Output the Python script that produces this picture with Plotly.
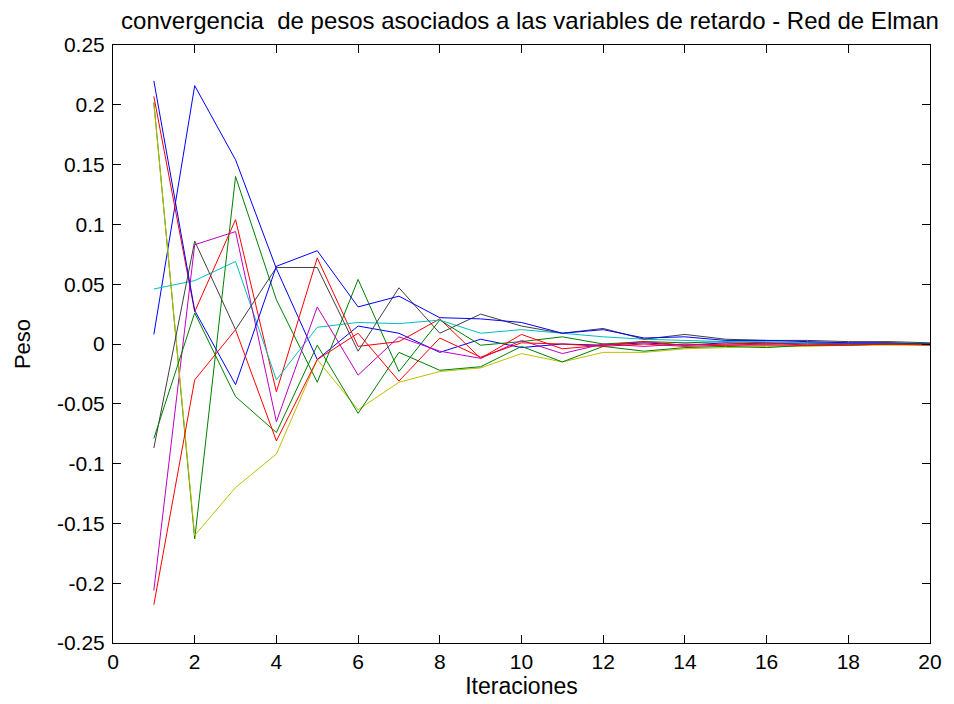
import plotly.graph_objects as go

iteraciones = list(range(1, 21))

blue_a = [0.008, 0.216, 0.154, 0.063, -0.013, 0.015, 0.009, -0.007, 0.004, -0.003, 0.000, -0.001, 0.001, -0.001, 0.001, 0.000, 0.001, 0.000, 0.000, 0.000]
green_a = [0.202, -0.163, 0.140, 0.037, -0.032, 0.054, -0.023, 0.020, -0.001, 0.002, 0.006, 0.000, 0.002, 0.001, 0.002, 0.001, 0.001, 0.000, 0.000, 0.000]
red_a = [0.207, 0.027, 0.104, -0.040, 0.072, -0.002, 0.002, 0.021, -0.012, 0.008, -0.004, -0.001, 0.002, -0.001, 0.000, 0.001, -0.001, 0.000, 0.000, 0.000]
cyan = [0.046, 0.053, 0.069, -0.030, 0.014, 0.018, 0.017, 0.020, 0.009, 0.012, 0.009, 0.006, 0.004, 0.003, 0.002, 0.002, 0.001, 0.001, 0.001, 0.000]
magenta = [-0.206, 0.083, 0.094, -0.065, 0.031, -0.026, 0.006, -0.006, -0.012, 0.003, -0.008, 0.000, -0.002, 0.000, -0.001, 0.000, 0.000, 0.000, 0.000, 0.000]
yellow = [0.201, -0.160, -0.120, -0.092, -0.013, -0.055, -0.032, -0.023, -0.020, -0.008, -0.015, -0.007, -0.007, -0.004, -0.003, -0.002, -0.002, -0.001, -0.001, -0.001]
black = [-0.087, 0.086, 0.012, 0.064, 0.064, -0.006, 0.047, 0.009, 0.025, 0.015, 0.009, 0.013, 0.004, 0.008, 0.004, 0.003, 0.003, 0.002, 0.002, 0.001]
blue_b = [0.220, 0.028, -0.034, 0.065, 0.078, 0.031, 0.040, 0.022, 0.021, 0.018, 0.009, 0.012, 0.005, 0.006, 0.003, 0.003, 0.002, 0.001, 0.001, 0.000]
green_b = [-0.079, 0.026, -0.044, -0.074, -0.001, -0.058, -0.007, -0.022, -0.019, -0.002, -0.015, -0.002, -0.006, -0.003, -0.002, -0.003, -0.001, -0.001, 0.000, 0.000]
red_b = [-0.218, -0.030, 0.012, -0.081, -0.013, 0.009, -0.031, 0.005, -0.011, 0.001, 0.000, -0.002, 0.000, -0.002, -0.001, -0.001, -0.001, -0.001, 0.000, -0.001]

series = [blue_a, green_a, red_a, cyan, magenta, yellow, black, blue_b, green_b, red_b]
colors = ["#0000FF", "#008000", "#FF0000", "#00BFBF", "#BF00BF", "#BFBF00", "#404040", "#0000FF", "#008000", "#FF0000"]

x_ticks = list(range(0, 21, 2))
y_ticks = [-0.25, -0.2, -0.15, -0.1, -0.05, 0, 0.05, 0.1, 0.15, 0.2, 0.25]
y_labels = ["-0.25", "-0.2", "-0.15", "-0.1", "-0.05", "0", "0.05", "0.1", "0.15", "0.2", "0.25"]

fig = go.Figure()
for s, c in zip(series, colors):
    fig.add_trace(go.Scatter(x=iteraciones, y=s, mode="lines",
                             line=dict(color=c, width=1), showlegend=False))

fam = "Liberation Sans, Arial, sans-serif"
tickfont = dict(family=fam, size=21, color="black")
fig.update_layout(
    width=954, height=704,
    margin=dict(l=113, r=18, t=45, b=61),
    paper_bgcolor="white", plot_bgcolor="white",
    font=dict(family=fam, size=20, color="black"),
    title=dict(text="convergencia  de pesos asociados a las variables de retardo - Red de Elman",
               x=(118 + 942) / 2 / 954, xanchor="center", y=1 - 21 / 704, yanchor="middle",
               font=dict(family=fam, size=24, color="black")),
    xaxis=dict(range=[0, 20], tickvals=x_ticks, ticks="inside", ticklen=8, tickcolor="black",
               showline=True, linecolor="black", linewidth=1, mirror="ticks", showgrid=False,
               zeroline=False, title=dict(text="Iteraciones", standoff=2, font=dict(family=fam, size=23)),
               tickfont=tickfont),
    yaxis=dict(range=[-0.25, 0.25], tickvals=y_ticks, ticktext=y_labels, ticks="inside",
               ticklen=8, tickcolor="black", showline=True, linecolor="black", linewidth=1,
               mirror="ticks", showgrid=False, zeroline=False, ticklabelstandoff=3,
               title=dict(text="Peso", standoff=20, font=dict(family=fam, size=22)), tickfont=tickfont),
)
fig.write_html("out.html")
